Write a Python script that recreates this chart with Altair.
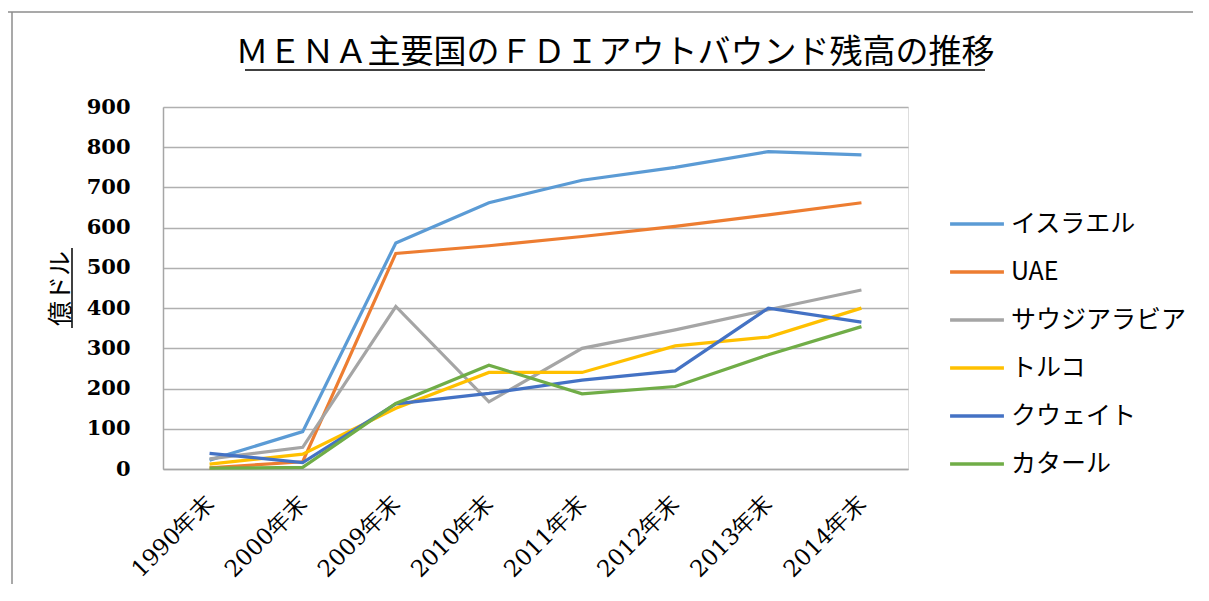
import altair as alt
import pandas as pd

categories = ["1990年末", "2000年末", "2009年末", "2010年末", "2011年末", "2012年末", "2013年末", "2014年末"]
series_names = ["イスラエル", "UAE", "サウジアラビア", "トルコ", "クウェイト", "カタール"]
israel = [22, 93, 562, 662, 718, 750, 789, 781]
uae = [3, 18, 536, 555, 578, 603, 632, 662]
saudi = [25, 54, 404, 167, 300, 346, 396, 445]
turkey = [12, 37, 151, 240, 240, 306, 328, 400]
kuwait = [39, 16, 162, 188, 221, 244, 400, 365]
qatar = [2, 4, 163, 258, 187, 205, 284, 354]
colors = ["#5B9BD5", "#ED7D31", "#A5A5A5", "#FFC000", "#4472C4", "#70AD47"]

title_text = "ＭＥＮＡ主要国のＦＤＩアウトバウンド残高の推移"
y_title = "億ドル"

rows = []
for name, vals in zip(series_names, [israel, uae, saudi, turkey, kuwait, qatar]):
    for c, v in zip(categories, vals):
        rows.append({"year": c, "country": name, "value": v})
df = pd.DataFrame(rows)

W, H = 745, 362
one = pd.DataFrame({"t": [title_text]})

lines = alt.Chart(df).mark_line(strokeWidth=3.2).encode(
    x=alt.X("year:N", sort=categories,
            scale=alt.Scale(type="point", padding=0.5),
            axis=alt.Axis(title=None, labelAngle=-45, labelAlign="right", labelBaseline="middle",
                          labelPadding=30, ticks=False, grid=False,
                          labelFont="DejaVu Serif", labelFontSize=23, labelColor="#000000",
                          domainColor="#a6a6a6", domainWidth=1.5)),
    y=alt.Y("value:Q", scale=alt.Scale(domain=[0, 900], nice=False),
            axis=alt.Axis(title=y_title, values=list(range(0, 1000, 100)), ticks=False,
                          labelFont="DejaVu Serif", labelFontSize=21, labelFontWeight="bold",
                          labelColor="#000000", labelPadding=33,
                          gridColor="#b0b0b0", gridWidth=1.3,
                          domainColor="#a6a6a6", domainWidth=1.5,
                          titleFont="Noto Sans CJK JP", titleFontSize=25, titleFontWeight="normal",
                          titleColor="#000000", titleAngle=-90, titleAlign="center",
                          titleBaseline="middle", titleX=-103, titleY=H / 2)),
    color=alt.Color("country:N", sort=series_names,
                    scale=alt.Scale(domain=series_names, range=colors),
                    legend=alt.Legend(orient="none", legendX=785, legendY=88, title=None,
                                      symbolType="stroke", symbolSize=2900, symbolStrokeWidth=3.5,
                                      labelFont="Noto Sans CJK JP", labelFontSize=25, labelLimit=260,
                                      labelColor="#000000", labelOffset=5, rowPadding=6)),
)

title_mark = alt.Chart(one).mark_text(font="Noto Sans CJK JP", fontSize=33, color="#000000",
                                      align="center", baseline="middle").encode(
    text="t:N", x=alt.value(452), y=alt.value(-54))
title_underline = alt.Chart(one).mark_rule(color="#000000", strokeWidth=1.5).encode(
    x=alt.value(82), x2=alt.value(822), y=alt.value(-37))
ytitle_underline = alt.Chart(one).mark_rule(color="#000000", strokeWidth=1.5).encode(
    y=alt.value(141), y2=alt.value(221), x=alt.value(-91))
border_top = alt.Chart(one).mark_rule(color="#8c8c8c", strokeWidth=1.5).encode(
    x=alt.value(-158), x2=alt.value(1100), y=alt.value(-95))
border_left = alt.Chart(one).mark_rule(color="#8c8c8c", strokeWidth=1.5).encode(
    y=alt.value(-95), y2=alt.value(500), x=alt.value(-151))

chart = alt.layer(lines, title_mark, title_underline, ytitle_underline, border_top, border_left).properties(
    width=W, height=H,
    autosize=alt.AutoSizeParams(type="none"),
    padding={"left": 155, "top": 99, "right": 285, "bottom": 115},
).configure_view(stroke=None).configure(background="white")

chart.save("out.html", embed_options={"renderer": "svg", "actions": False})
